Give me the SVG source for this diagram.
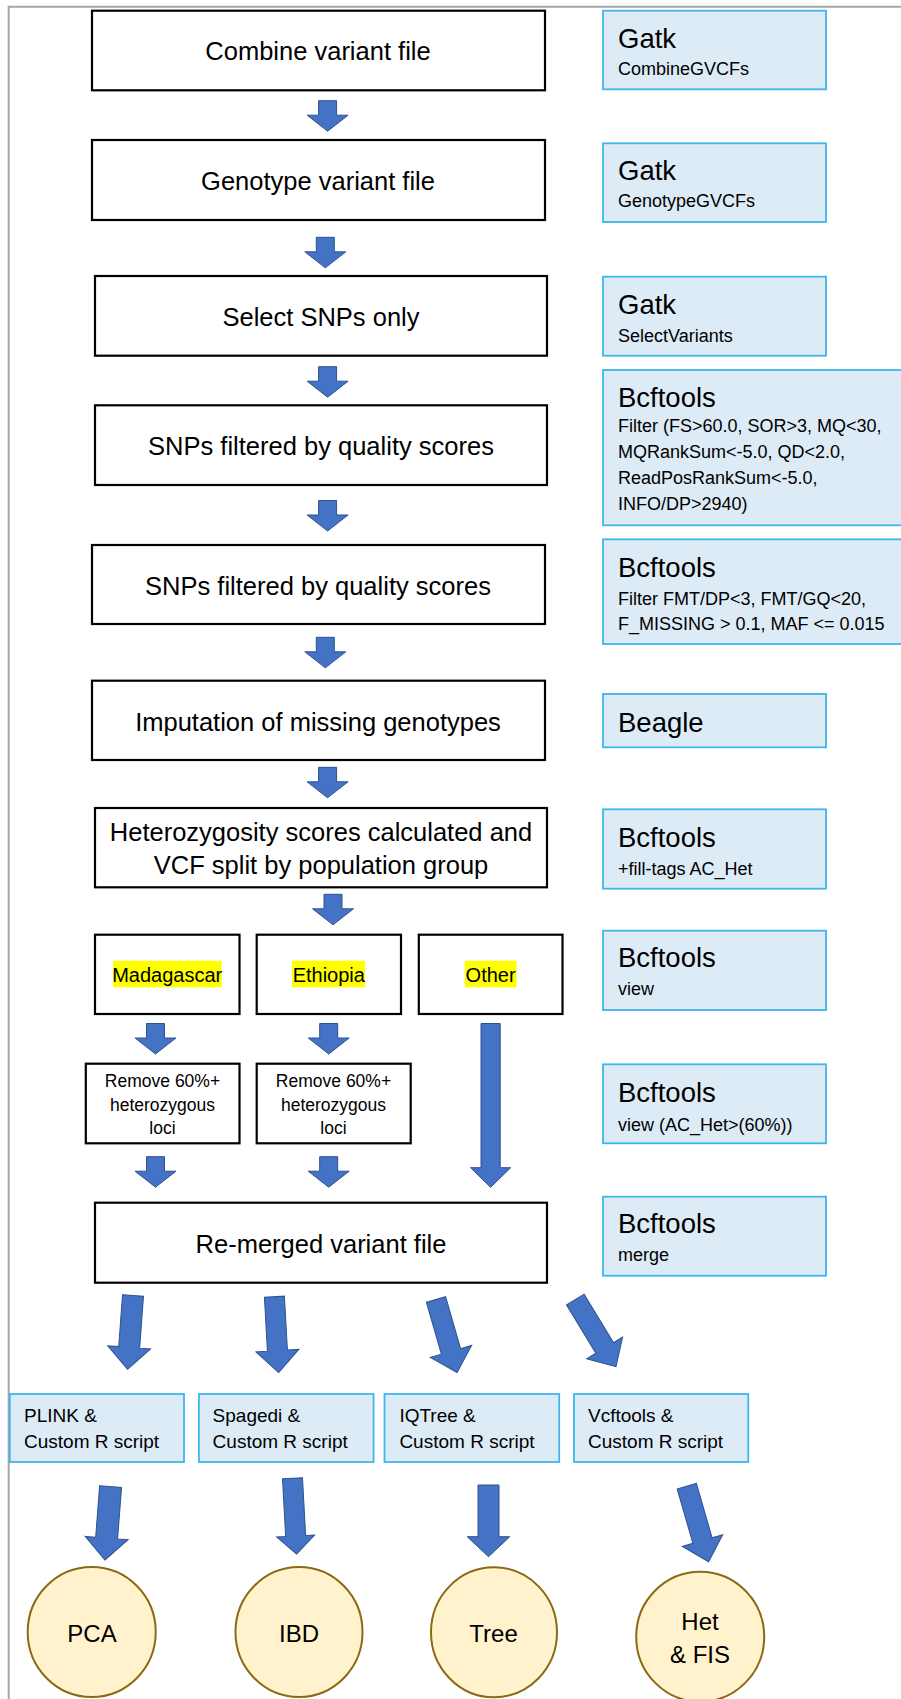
<svg xmlns="http://www.w3.org/2000/svg" xmlns:xlink="http://www.w3.org/1999/xlink" width="901" height="1699" viewBox="0 0 901 1699">
<style>
.frame{stroke:#A6A6A6;stroke-width:2;fill:none}
.box{fill:#FFFFFF;stroke:#000000;stroke-width:2.2}
.tool{fill:#DDEBF7;stroke:#3FB6EC;stroke-width:1.8}
.circ{fill:#FFF2CC;stroke:#8A6A12;stroke-width:2}
.arrow{fill:#4472C4;stroke:#2F528F;stroke-width:1}
.hl{fill:#FFFF00}
text{font-family:"Liberation Sans",Arial,sans-serif;fill:#000}
.main{font-size:25.5px;text-anchor:middle}
.big{font-size:27.5px}
.small{font-size:18px}
.pop{font-size:20px;text-anchor:middle}
.rm{font-size:17.5px;text-anchor:middle}
.tl{font-size:19px}
.ct{font-size:24px;text-anchor:middle}
</style>
<defs>
<path id="va" d="M-9,0 H9 V14.5 H20.5 L0,30.5 L-20.5,14.5 H-9 Z"/>
</defs>
<rect x="0" y="0" width="901" height="1699" fill="#FFFFFF"/>
<path class="frame" d="M8.7,1699 V6.7 H901"/>

<g id="n-combine"><rect class="box" x="92" y="10.7" width="453" height="79.6"/><text class="main" x="318" y="60">Combine variant file</text></g>
<g id="t-gatk1"><rect class="tool" x="603" y="10.7" width="223" height="78.6"/><text class="big" x="618" y="48.3">Gatk</text><text class="small" x="618" y="75">CombineGVCFs</text></g>

<g id="n-genotype"><rect class="box" x="92" y="140" width="453" height="80"/><text class="main" x="318" y="189.5">Genotype variant file</text></g>
<g id="t-gatk2"><rect class="tool" x="603" y="143.3" width="223" height="78.7"/><text class="big" x="618" y="180">Gatk</text><text class="small" x="618" y="207.3">GenotypeGVCFs</text></g>

<g id="n-select"><rect class="box" x="95" y="276" width="452" height="79.7"/><text class="main" x="321" y="325.5">Select SNPs only</text></g>
<g id="t-gatk3"><rect class="tool" x="603" y="276.7" width="223" height="79"/><text class="big" x="618" y="314.3">Gatk</text><text class="small" x="618" y="341.7">SelectVariants</text></g>

<g id="n-filter1"><rect class="box" x="95" y="405.3" width="452" height="79.7"/><text class="main" x="321" y="455">SNPs filtered by quality scores</text></g>
<g id="t-bcf1"><rect class="tool" x="603" y="370" width="300" height="155.3"/><text class="big" x="618" y="406.7">Bcftools</text><text class="small" x="618" y="432">Filter (FS&gt;60.0, SOR&gt;3, MQ&lt;30,</text><text class="small" x="618" y="458">MQRankSum&lt;-5.0, QD&lt;2.0,</text><text class="small" x="618" y="484">ReadPosRankSum&lt;-5.0,</text><text class="small" x="618" y="510">INFO/DP&gt;2940)</text></g>

<g id="n-filter2"><rect class="box" x="92" y="545" width="453" height="79"/><text class="main" x="318" y="595">SNPs filtered by quality scores</text></g>
<g id="t-bcf2"><rect class="tool" x="603" y="539.3" width="300" height="104.7"/><text class="big" x="618" y="576.7">Bcftools</text><text class="small" x="618" y="605">Filter FMT/DP&lt;3, FMT/GQ&lt;20,</text><text class="small" x="618" y="630">F_MISSING &gt; 0.1, MAF &lt;= 0.015</text></g>

<g id="n-impute"><rect class="box" x="92" y="680.7" width="453" height="79.3"/><text class="main" x="318" y="730.5">Imputation of missing genotypes</text></g>
<g id="t-beagle"><rect class="tool" x="603" y="694" width="223" height="53.3"/><text class="big" x="618" y="731.7">Beagle</text></g>

<g id="n-het"><rect class="box" x="95" y="808" width="452" height="79.3"/><text class="main" x="321" y="840.5">Heterozygosity scores calculated and</text><text class="main" x="321" y="874">VCF split by population group</text></g>
<g id="t-bcf3"><rect class="tool" x="603" y="809.3" width="223" height="79.4"/><text class="big" x="618" y="846.7">Bcftools</text><text class="small" x="618" y="875">+fill-tags AC_Het</text></g>

<g id="n-mad"><rect class="box" x="95" y="934.7" width="144.5" height="79.3"/><rect class="hl" x="113" y="960.7" width="108.5" height="26.6"/><text class="pop" x="167.2" y="981.5">Madagascar</text></g>
<g id="n-eth"><rect class="box" x="256.7" y="934.7" width="144.3" height="79.3"/><rect class="hl" x="292" y="960.7" width="73" height="26.6"/><text class="pop" x="328.8" y="981.5">Ethiopia</text></g>
<g id="n-other"><rect class="box" x="418.8" y="934.7" width="143.7" height="79.3"/><rect class="hl" x="464.7" y="960.7" width="51.8" height="26.6"/><text class="pop" x="490.6" y="981.5">Other</text></g>
<g id="t-bcf4"><rect class="tool" x="603" y="930.7" width="223" height="79.3"/><text class="big" x="618" y="967.3">Bcftools</text><text class="small" x="618" y="995">view</text></g>

<g id="n-rm1"><rect class="box" x="85.8" y="1063.7" width="153.7" height="79.6"/><text class="rm" x="162.5" y="1087">Remove 60%+</text><text class="rm" x="162.5" y="1110.5">heterozygous</text><text class="rm" x="162.5" y="1134">loci</text></g>
<g id="n-rm2"><rect class="box" x="256.7" y="1063.7" width="154" height="79.6"/><text class="rm" x="333.5" y="1087">Remove 60%+</text><text class="rm" x="333.5" y="1110.5">heterozygous</text><text class="rm" x="333.5" y="1134">loci</text></g>
<g id="t-bcf5"><rect class="tool" x="603" y="1064.3" width="223" height="79"/><text class="big" x="618" y="1101.7">Bcftools</text><text class="small" x="618" y="1130.7">view (AC_Het&gt;(60%))</text></g>

<g id="n-merge"><rect class="box" x="95" y="1202.7" width="452" height="80"/><text class="main" x="321" y="1252.5">Re-merged variant file</text></g>
<g id="t-bcf6"><rect class="tool" x="603" y="1196.7" width="223" height="79"/><text class="big" x="618" y="1233.3">Bcftools</text><text class="small" x="618" y="1261">merge</text></g>

<g id="t-plink"><rect class="tool" x="9.8" y="1394" width="174.2" height="68"/><text class="tl" x="24" y="1421.7">PLINK &amp;</text><text class="tl" x="24" y="1448.3">Custom R script</text></g>
<g id="t-spagedi"><rect class="tool" x="198.9" y="1394" width="174.7" height="68"/><text class="tl" x="212.6" y="1421.7">Spagedi &amp;</text><text class="tl" x="212.6" y="1448.3">Custom R script</text></g>
<g id="t-iqtree"><rect class="tool" x="384.5" y="1394" width="174.7" height="68"/><text class="tl" x="399.4" y="1421.7">IQTree &amp;</text><text class="tl" x="399.4" y="1448.3">Custom R script</text></g>
<g id="t-vcftools"><rect class="tool" x="574" y="1394" width="174.3" height="68"/><text class="tl" x="588" y="1421.7">Vcftools &amp;</text><text class="tl" x="588" y="1448.3">Custom R script</text></g>

<g id="n-pca"><ellipse class="circ" cx="91.7" cy="1632" rx="64" ry="65"/><text class="ct" x="92" y="1641.5">PCA</text></g>
<g id="n-ibd"><ellipse class="circ" cx="299" cy="1632" rx="63.5" ry="65"/><text class="ct" x="299" y="1641.5">IBD</text></g>
<g id="n-tree"><ellipse class="circ" cx="494" cy="1632.3" rx="63" ry="65"/><text class="ct" x="493.5" y="1641.5">Tree</text></g>
<g id="n-hetfis"><ellipse class="circ" cx="700.2" cy="1636.7" rx="64" ry="65"/><text class="ct" x="700" y="1630">Het</text><text class="ct" x="700" y="1663.3">&amp; FIS</text></g>

<g id="connectors">
<use href="#va" class="arrow" x="327.6" y="100.7"/>
<use href="#va" class="arrow" x="325.3" y="237.3"/>
<use href="#va" class="arrow" x="327.6" y="366.7"/>
<use href="#va" class="arrow" x="327.6" y="500.5"/>
<use href="#va" class="arrow" x="325.3" y="637.3"/>
<use href="#va" class="arrow" x="327.6" y="767.3"/>
<use href="#va" class="arrow" x="333" y="894.3"/>
<use href="#va" class="arrow" x="155.5" y="1023.5"/>
<use href="#va" class="arrow" x="328.7" y="1023.5"/>
<use href="#va" class="arrow" x="155.5" y="1156.7"/>
<use href="#va" class="arrow" x="328.7" y="1156.7"/>
<path class="arrow" d="M481,1023.5 H500.2 V1167.7 H510.7 L490.6,1187.3 L470.5,1167.7 H481 Z"/>
<path class="arrow" transform="translate(133,1295.5) rotate(4.2)" d="M-10.5,0 H10.5 V52 H21.5 L0,74 L-21.5,52 H-10.5 Z"/>
<path class="arrow" transform="translate(274.4,1296.7) rotate(-3.2)" d="M-10,0 H10 V54 H21.5 L0,76 L-21.5,54 H-10 Z"/>
<path class="arrow" transform="translate(436,1299.5) rotate(-16.1)" d="M-10,0 H10 V54 H21.5 L0,76 L-21.5,54 H-10 Z"/>
<path class="arrow" transform="translate(575.3,1299.5) rotate(-31.2)" d="M-10.3,0 H10.3 V56.6 H21 L0,78.6 L-21,56.6 H-10.3 Z"/>
<path class="arrow" transform="translate(110.6,1486.5) rotate(4.4)" d="M-11,0 H11 V51.7 H21.5 L0,73.7 L-21.5,51.7 H-11 Z"/>
<path class="arrow" transform="translate(292.5,1478.3) rotate(-3.1)" d="M-10,0 H10 V57.8 H19 L0,75.8 L-19,57.8 H-10 Z"/>
<path class="arrow" transform="translate(488.5,1485) rotate(0)" d="M-10.5,0 H10.5 V51.7 H21.3 L0,71.7 L-21.3,51.7 H-10.5 Z"/>
<path class="arrow" transform="translate(686.8,1486.2) rotate(-16.1)" d="M-10,0 H10 V56.6 H21 L0,78.6 L-21,56.6 H-10 Z"/>
</g>
</svg>
